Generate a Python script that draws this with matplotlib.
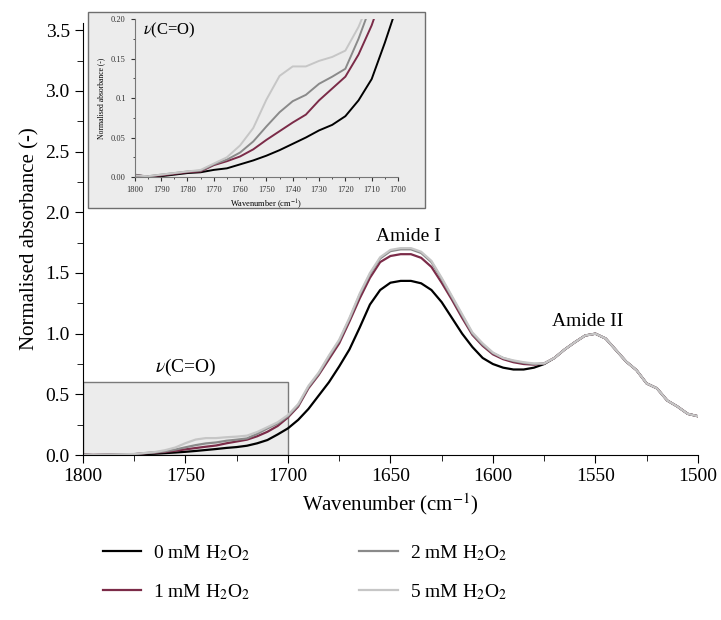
import numpy as np
import matplotlib
matplotlib.use("Agg")
import matplotlib.pyplot as plt
from matplotlib.patches import Rectangle
from matplotlib.ticker import MultipleLocator, FixedLocator

plt.rcParams['font.family'] = ['Liberation Serif', 'DejaVu Serif']
plt.rcParams['mathtext.fontset'] = 'stix'

# wavenumber grid (cm-1), 1800 -> 1500 in steps of 5
wn = np.arange(1800, 1499, -5)

# shared tail (curves merge below ~1575 cm-1)
tail = [0.80, 0.87, 0.93, 0.985, 1.00, 0.96, 0.865, 0.77, 0.70, 0.59,
        0.55, 0.45, 0.40, 0.34, 0.32]

abs_0mM = [0.003, 0.000, 0.001, 0.003, 0.005, 0.006, 0.009, 0.011, 0.016, 0.021,
           0.027, 0.034, 0.042, 0.050, 0.059, 0.066, 0.077, 0.097, 0.124, 0.17,
           0.22, 0.29, 0.38, 0.49, 0.60, 0.73, 0.87, 1.05, 1.24, 1.36,
           1.42, 1.435, 1.435, 1.415, 1.36, 1.26, 1.13, 1.00, 0.89, 0.80,
           0.75, 0.72, 0.705, 0.705, 0.72, 0.75] + tail

abs_1mM = [0.002, 0.001, 0.002, 0.004, 0.006, 0.007, 0.015, 0.020, 0.026, 0.035,
           0.047, 0.058, 0.069, 0.079, 0.097, 0.112, 0.127, 0.155, 0.192, 0.24,
           0.31, 0.40, 0.55, 0.66, 0.79, 0.92, 1.10, 1.29, 1.46, 1.59,
           1.64, 1.655, 1.655, 1.625, 1.55, 1.42, 1.28, 1.13, 0.99, 0.90,
           0.83, 0.79, 0.765, 0.75, 0.745, 0.755] + tail

abs_2mM = [0.002, 0.001, 0.003, 0.005, 0.007, 0.008, 0.016, 0.022, 0.031, 0.045,
           0.064, 0.082, 0.096, 0.104, 0.118, 0.127, 0.137, 0.175, 0.22, 0.26,
           0.32, 0.41, 0.56, 0.67, 0.81, 0.94, 1.12, 1.32, 1.49, 1.62,
           1.68, 1.695, 1.695, 1.665, 1.59, 1.45, 1.30, 1.15, 1.00, 0.91,
           0.84, 0.80, 0.775, 0.76, 0.75, 0.755] + tail

abs_5mM = [0.002, 0.001, 0.003, 0.005, 0.007, 0.009, 0.017, 0.025, 0.040, 0.062,
           0.098, 0.128, 0.140, 0.140, 0.147, 0.152, 0.160, 0.19, 0.23, 0.27,
           0.33, 0.42, 0.57, 0.68, 0.82, 0.95, 1.13, 1.33, 1.50, 1.63,
           1.69, 1.705, 1.705, 1.675, 1.60, 1.46, 1.31, 1.16, 1.01, 0.92,
           0.845, 0.80, 0.78, 0.765, 0.755, 0.755] + tail

labels = ['0 mM H$_2$O$_2$', '1 mM H$_2$O$_2$', '2 mM H$_2$O$_2$', '5 mM H$_2$O$_2$']
colors = ['#000000', '#7b2b48', '#8a8a8a', '#c6c6c6']
series = [abs_0mM, abs_1mM, abs_2mM, abs_5mM]

inset_yticks = [0.0, 0.05, 0.1, 0.15, 0.2]
inset_yticklabels = ['0.00', '0.05', '0.1', '0.15', '0.20']

fig = plt.figure(figsize=(7.21, 6.20), dpi=100)
ax = fig.add_axes([0.115, 0.266, 0.853, 0.697])

lines = []
for y, c, lab in zip(series, colors, labels):
    l, = ax.plot(wn, y, color=c, lw=1.6, label=lab)
    lines.append(l)

ax.add_patch(Rectangle((1800, 0), -100, 0.6, facecolor='#ececec',
                       edgecolor='#7a7a7a', lw=1.0, zorder=0))
ax.set_xlim(1800, 1500)
ax.set_ylim(0, 3.56)
ax.spines['top'].set_visible(False)
ax.spines['right'].set_visible(False)
ax.xaxis.set_major_locator(MultipleLocator(50))
ax.xaxis.set_minor_locator(MultipleLocator(25))
ax.yaxis.set_major_locator(FixedLocator([0, 0.5, 1.0, 1.5, 2.0, 2.5, 3.0, 3.5]))
ax.yaxis.set_minor_locator(MultipleLocator(0.25))
ax.yaxis.set_major_formatter(matplotlib.ticker.FormatStrFormatter('%.1f'))
ax.tick_params(which='both', direction='out', labelsize=14)
ax.tick_params(which='major', length=6)
ax.tick_params(which='minor', length=4)
ax.set_xlabel('Wavenumber (cm$^{-1}$)', fontsize=15)
ax.set_ylabel('Normalised absorbance (-)', fontsize=15)

ax.text(1750, 0.72, r'$\nu$(C=O)', fontsize=14, ha='center', va='center')
ax.text(1641, 1.80, 'Amide I', fontsize=14, ha='center', va='center')
ax.text(1554, 1.10, 'Amide II', fontsize=14, ha='center', va='center')

# inset frame
frame = Rectangle((0.122, 0.665), 0.467, 0.316, transform=fig.transFigure,
                  facecolor='#ececec', edgecolor='#6e6e6e', lw=1.0, zorder=1)
fig.add_artist(frame)

axi = fig.add_axes([0.187, 0.7145, 0.365, 0.2548], zorder=2)
axi.set_facecolor('#ececec')
for y, c in zip(series, colors):
    axi.plot(wn, y, color=c, lw=1.4)
axi.set_xlim(1800, 1700)
axi.set_ylim(0, 0.2)
axi.spines['top'].set_visible(False)
axi.spines['right'].set_visible(False)
for s in ['left', 'bottom']:
    axi.spines[s].set_color('#777777')
    axi.spines[s].set_linewidth(0.8)
axi.xaxis.set_major_locator(MultipleLocator(10))
axi.xaxis.set_minor_locator(MultipleLocator(5))
axi.set_yticks(inset_yticks)
axi.set_yticklabels(inset_yticklabels)
axi.yaxis.set_minor_locator(MultipleLocator(0.025))
axi.tick_params(which='both', direction='out', labelsize=6, colors='#333333')
axi.tick_params(which='major', length=3)
axi.tick_params(which='minor', length=1.5)
axi.set_xlabel('Wavenumber (cm$^{-1}$)', fontsize=6, labelpad=2)
axi.set_ylabel('Normalised absorbance (-)', fontsize=5.5, labelpad=4)
axi.text(0.03, 0.93, r'$\nu$(C=O)', transform=axi.transAxes, fontsize=12,
         ha='left', va='center')

fig.legend(handles=lines, labels=labels, ncol=2, frameon=False, fontsize=14,
           loc='upper left', bbox_to_anchor=(0.118, 0.152), handlelength=2.0,
           handletextpad=0.6, columnspacing=5.6, labelspacing=0.98)

fig.savefig('out.png', dpi=100)
